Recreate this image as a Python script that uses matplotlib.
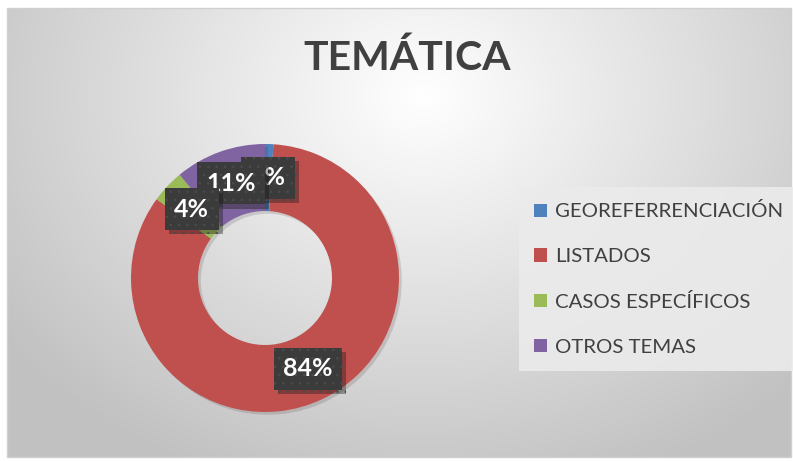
import numpy as np
import matplotlib.pyplot as plt
from matplotlib.patches import Patch, Rectangle
import matplotlib.patheffects as pe

categories = ['GEOREFERRENCIACIÓN', 'LISTADOS', 'CASOS ESPECÍFICOS', 'OTROS TEMAS']
values = [1, 84, 4, 11]
labels = ['1%', '84%', '4%', '11%']
colors = ['#4f81bd', '#c0504d', '#9bbb59', '#8064a2']
label_order = [0, 1, 3, 2]  # later ones drawn on top

plt.rcParams['hatch.linewidth'] = 0.6

W, H = 793, 461
fig = plt.figure(figsize=(W / 100, H / 100), dpi=100)
fig.patch.set_facecolor('white')

# background with radial gradient
bg = fig.add_axes([0, 0, 1, 1])
bg.set_xlim(0, W)
bg.set_ylim(H, 0)
bg.axis('off')
yy, xx = np.mgrid[0:H, 0:W]
d = np.sqrt(((xx - 420) / 520.0) ** 2 + ((yy - 90) / 420.0) ** 2)
shade = np.clip(1.0 - 0.24 * d, 0.76, 1.0)
img = np.dstack([shade, shade, shade])
bg.imshow(img, extent=(7, 791, 457, 8), interpolation='bilinear', zorder=0)
bg.add_patch(Rectangle((7, 8), 784, 449, fill=False, edgecolor='#d0d0d0', lw=1, zorder=1))

bg.text(407, 58, 'TEMÁTICA', fontsize=29.5, fontweight='bold', family='Lato',
        color='#404040', ha='center', va='center')

# donut
cx, cy, r = 265, 278, 134
ax = fig.add_axes([(cx - r) / W, (H - cy - r) / H, 2 * r / W, 2 * r / H])
wedges, _ = ax.pie(values, colors=colors, startangle=90, counterclock=False,
                   radius=1, wedgeprops=dict(width=0.5, edgecolor='none'))
for w in wedges:
    w.set_path_effects([pe.SimplePatchShadow(offset=(2, -2), alpha=0.15), pe.Normal()])
ax.set_xlim(-1, 1)
ax.set_ylim(-1, 1)
ax.set_aspect('equal')
ax.axis('off')

cum = np.cumsum([0] + values[:-1])
total = float(sum(values))
for z, i in enumerate(label_order):
    mid = (cum[i] + values[i] / 2.0) / total * 360.0
    ang = np.deg2rad(90 - mid)
    t = ax.text(0.75 * np.cos(ang), 0.75 * np.sin(ang), labels[i], fontsize=18,
                fontweight='bold', family='Lato', color='white', ha='center', va='center',
                zorder=5 + z,
                bbox=dict(boxstyle='square,pad=0.38', facecolor='#3b3b3b',
                          edgecolor='#4b4b4b', lw=0, hatch='..'))
    t.get_bbox_patch().set_path_effects([pe.SimplePatchShadow(offset=(3, -3), alpha=0.35),
                                         pe.Normal()])

handles = [Patch(facecolor=c, edgecolor='none') for c in colors]
leg = fig.legend(handles, categories, loc='upper left',
                 bbox_to_anchor=(519 / W, 1 - 187 / H), frameon=True,
                 prop=dict(family='Lato', size=14.7), labelcolor='#404040',
                 handlelength=0.62, handleheight=0.62, handletextpad=0.4,
                 labelspacing=1.36, borderpad=0.75, borderaxespad=0,
                 fancybox=False)
leg.get_frame().set_facecolor('#ebebeb')
leg.get_frame().set_edgecolor('none')
leg.get_frame().set_alpha(0.9)

fig.savefig('out.png', dpi=100, facecolor='white')
